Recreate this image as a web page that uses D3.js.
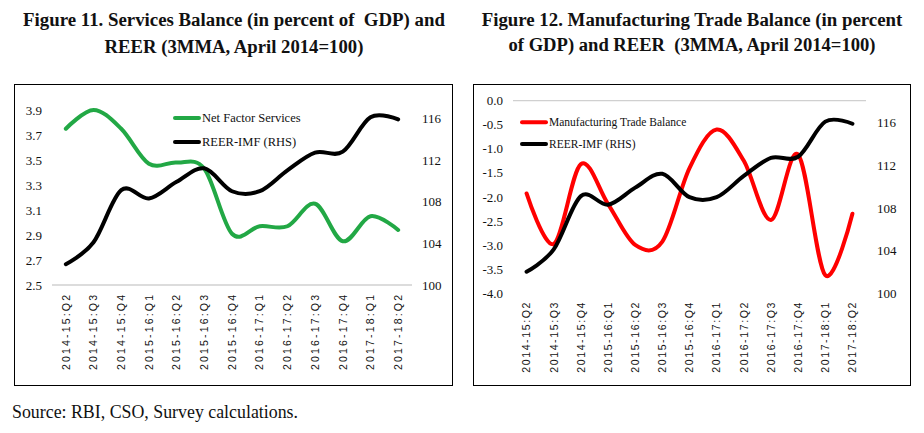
<!DOCTYPE html>
<html><head><meta charset="utf-8">
<script src="https://cdn.jsdelivr.net/npm/d3@7"></script>
<style>body{margin:0;background:#fff} svg{display:block} text{white-space:pre}</style>
</head><body>
<svg id="c" width="924" height="433"></svg>
<script>
const categories = ["2014-15:Q2","2014-15:Q3","2014-15:Q4","2015-16:Q1","2015-16:Q2","2015-16:Q3","2015-16:Q4","2016-17:Q1","2016-17:Q2","2016-17:Q3","2016-17:Q4","2017-18:Q1","2017-18:Q2"];
const netFactorServices = [3.75,3.90,3.75,3.47,3.48,3.43,2.91,2.97,2.97,3.15,2.85,3.05,2.94];
const manufacturingTradeBalance = [-1.93,-2.98,-1.32,-2.15,-3.00,-2.93,-1.40,-0.60,-1.25,-2.48,-1.12,-3.63,-2.35];
const reerIMF = [102.0,104.1,109.1,108.3,109.9,111.2,109.0,109.0,111.0,112.7,112.8,116.1,115.9];
const servicesTicks = [2.5,2.7,2.9,3.1,3.3,3.5,3.7,3.9];
const tradeTicks = [0,-0.5,-1.0,-1.5,-2.0,-2.5,-3.0,-3.5,-4.0];
const reerTicks = [100,104,108,112,116];
const titles1 = ["Figure 11. Services Balance (in percent of  GDP) and","REER (3MMA, April 2014=100)"];
const titles2 = ["Figure 12. Manufacturing Trade Balance (in percent","of GDP) and REER  (3MMA, April 2014=100)"];
const legend1 = ["Net Factor Services","REER-IMF (RHS)"];
const legend2 = ["Manufacturing Trade Balance","REER-IMF (RHS)"];
const sourceText = "Source: RBI, CSO, Survey calculations.";

const svg = d3.select("#c");
const serif = "'Liberation Serif','Times New Roman',serif";
const sans = "'Liberation Sans',Arial,sans-serif";

function fitText(sel, target){
  const n = sel.node();
  const fs = parseFloat(sel.attr("font-size"));
  const w = n.getComputedTextLength();
  sel.attr("font-size", (fs*target/w).toFixed(2));
}
function title(lines, cx, ys, widths){
  lines.forEach((t,i)=>{
    const s = svg.append("text").attr("x",cx).attr("y",ys[i]).attr("text-anchor","middle")
      .attr("font-family",serif).attr("font-weight","bold").attr("font-size",16).attr("fill","#111").text(t);
    fitText(s, widths[i]);
  });
}
title(titles1, 234, [25.5, 52.5], [422, 259]);
title(titles2, 692, [25.5, 50.5], [421, 367]);

const src = svg.append("text").attr("x",12).attr("y",418).attr("font-family",serif)
  .attr("font-size",15).attr("fill","#111").text(sourceText);
fitText(src, 286);

function chart(o){
  const g = svg.append("g");
  g.append("rect").attr("x",o.box[0]+0.5).attr("y",84.5).attr("width",o.box[1]-o.box[0]).attr("height",301)
    .attr("fill","none").attr("stroke","#000").attr("stroke-width",1);
  const x = d3.scalePoint().domain(categories).range([o.plot[0],o.plot[1]]).padding(0.5);
  const yL = d3.scaleLinear().domain(o.lDomain).range(o.lRange);
  const yR = d3.scaleLinear().domain([100,116]).range(o.rRange);
  g.append("line").attr("x1",o.plot[0]).attr("x2",o.plot[1]).attr("y1",yL(o.axisAt)).attr("y2",yL(o.axisAt))
    .attr("stroke","#d0d0d0").attr("stroke-width",1.3);
  const la = g.append("g").attr("transform",`translate(${o.lx},0)`)
    .call(d3.axisLeft(yL).tickValues(o.lTicks).tickSize(0).tickPadding(0).tickFormat(d=>d.toFixed(1)));
  la.select(".domain").remove();
  la.selectAll("text").attr("font-family",serif).attr("font-size",13).attr("fill","#111");
  const ra = g.append("g").attr("transform",`translate(${o.rx},0)`)
    .call(d3.axisRight(yR).tickValues(reerTicks).tickSize(0).tickPadding(0).tickFormat(d3.format("d")));
  ra.select(".domain").remove();
  ra.selectAll("text").attr("font-family",serif).attr("font-size",13).attr("fill","#111");
  g.selectAll("text.cat").data(categories).enter().append("text").attr("class","cat")
    .attr("transform",d=>`translate(${x(d)},${o.labBottom}) rotate(-90)`)
    .attr("dy","0.36em").attr("font-family",sans).attr("font-size",10.5).attr("fill","#111")
    .attr("textLength",o.labLen).attr("lengthAdjust","spacing").text(d=>d);
  const curve = d3.curveCatmullRom.alpha(0);
  const l1 = d3.line().x((d,i)=>x(categories[i])).y(d=>yL(d)).curve(curve);
  const l2 = d3.line().x((d,i)=>x(categories[i])).y(d=>yR(d)).curve(curve);
  g.append("path").datum(o.series).attr("d",l1).attr("fill","none").attr("stroke",o.color)
    .attr("stroke-width",4).attr("stroke-linejoin","round").attr("stroke-linecap","round");
  g.append("path").datum(reerIMF).attr("d",l2).attr("fill","none").attr("stroke","#000")
    .attr("stroke-width",4).attr("stroke-linejoin","round").attr("stroke-linecap","round");
  [[o.color, o.legend[0], o.legY[0]],["#000", o.legend[1], o.legY[1]]].forEach(([c,t,y])=>{
    g.append("line").attr("x1",o.legX).attr("x2",o.legX+24).attr("y1",y).attr("y2",y)
      .attr("stroke",c).attr("stroke-width",4).attr("stroke-linecap","round");
    g.append("text").attr("x",o.legX+27).attr("y",y).attr("dy","0.35em").attr("font-family",serif)
      .attr("font-size",o.legFs).attr("fill","#111").text(t);
  });
}

chart({box:[14,452], plot:[52,412], lDomain:[2.5,3.9], lRange:[285,110], rRange:[285,118.3],
  axisAt:2.5, lx:42, rx:422, lTicks:servicesTicks, labBottom:370, labLen:75,
  series:netFactorServices, color:"#22a845", legend:legend1, legY:[118,142], legX:175, legFs:12.5});
chart({box:[473,910], plot:[513,866], lDomain:[-4,0], lRange:[293,100.7], rRange:[293,122.7],
  axisAt:0, lx:503, rx:877, lTicks:tradeTicks, labBottom:372.7, labLen:70,
  series:manufacturingTradeBalance, color:"#ff0000", legend:legend2, legY:[122.3,144], legX:522, legFs:11.5});
</script>
</body></html>
